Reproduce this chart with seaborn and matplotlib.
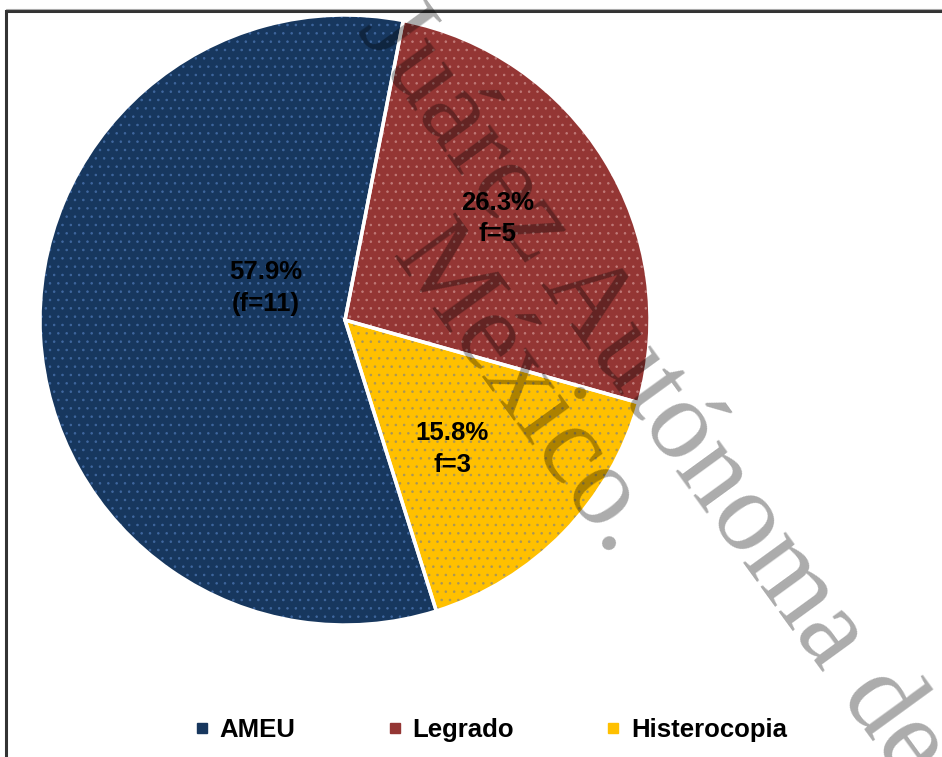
import numpy as np
import seaborn as sns
import matplotlib.pyplot as plt
from matplotlib import font_manager as fm
from matplotlib.patches import Rectangle
from matplotlib.lines import Line2D

# -------- data --------
categories = ["AMEU", "Legrado", "Histerocopia"]
counts = [11, 5, 3]
freq_labels = ["(f=11)", "f=5", "f=3"]
colors = ["#17375E", "#943634", "#FFC000"]
dot_colors = ["#3f679f", "#c07a78", "#a8955a"]
watermark_lines = ["Juárez Autónoma de", "México."]

sns.set_theme(style="white")
installed = {f.name for f in fm.fontManager.ttflist}
if "Liberation Sans Narrow" in installed:
    sans = ["Liberation Sans Narrow", "DejaVu Sans"]
    fsize = 20.5
else:
    sans = ["Liberation Sans", "DejaVu Sans"]
    fsize = 18.5
plt.rcParams["font.family"] = sans
plt.rcParams["hatch.linewidth"] = 0.6

W, H = 942, 757
fig = plt.figure(figsize=(W / 100, H / 100), dpi=100)

# pie centre (345, 320) px, radius 305 px
cx, cy, r = 345, 320, 305
ax = fig.add_axes([(cx - r) / W, 1 - (cy + r) / H, 2 * r / W, 2 * r / H])

total = sum(counts)
start = 79 + 360 * counts[0] / total
wedges, _ = ax.pie(counts, colors=colors, startangle=start,
                   counterclock=False, radius=1,
                   wedgeprops=dict(linewidth=0))
for w, dc in zip(wedges, dot_colors):
    w.set_hatch("..")
    w.set_edgecolor(dc)
    w.set_linewidth(0)
    w.set_clip_on(False)

# white separators on top
edges, _ = ax.pie(counts, colors=["none"] * 3, startangle=start,
                  counterclock=False, radius=1,
                  wedgeprops=dict(linewidth=2.5, edgecolor="white", fill=False))
for e in edges:
    e.set_clip_on(False)

ax.set_xlim(-1, 1)
ax.set_ylim(-1, 1)
ax.set_aspect("equal")
ax.axis("off")

# data labels
label_r = [0.28, 0.60, 0.55]
label_shift = [-25, 2, -6]
for w, n, fl, lr, sh in zip(wedges, counts, freq_labels, label_r, label_shift):
    mid = np.deg2rad((w.theta1 + w.theta2) / 2 + sh)
    pct = 100 * n / total
    ax.text(lr * np.cos(mid), lr * np.sin(mid), f"{pct:.1f}%\n{fl}",
            ha="center", va="center", fontsize=fsize, fontweight="bold",
            color="black", linespacing=1.4, zorder=5)

# legend
handles = [Line2D([], [], marker="s", linestyle="none", markersize=7,
                  markerfacecolor=c, markeredgecolor=c) for c in colors]
fig.legend(handles, categories, loc="center", ncol=3,
           bbox_to_anchor=(490 / W, 1 - 730 / H), frameon=False,
           prop=dict(size=fsize, weight="bold"), labelcolor="black",
           handlelength=0.7, handletextpad=0.35, columnspacing=3.5,
           borderpad=0)

# chart frame
fig.add_artist(Rectangle((6 / W, -0.1), 1.2, 1 - 11 / H + 0.1,
                         transform=fig.transFigure, fill=False,
                         edgecolor="#333333", linewidth=2.2, zorder=1))
fig.add_artist(Line2D([6 / W, 1], [1 - 9 / H] * 2, transform=fig.transFigure,
                      color="#aaaaaa", linewidth=0.8, zorder=1))

# watermark
wm_pos = [(652, 390), (523, 392)]
for txt, (x, y) in zip(watermark_lines, wm_pos):
    fig.text(x / W, 1 - y / H, txt, family="Liberation Serif", fontsize=82,
             color="black", alpha=0.33, rotation=-54, rotation_mode="anchor",
             ha="center", va="center", zorder=10)

fig.savefig("out.png", dpi=100)
